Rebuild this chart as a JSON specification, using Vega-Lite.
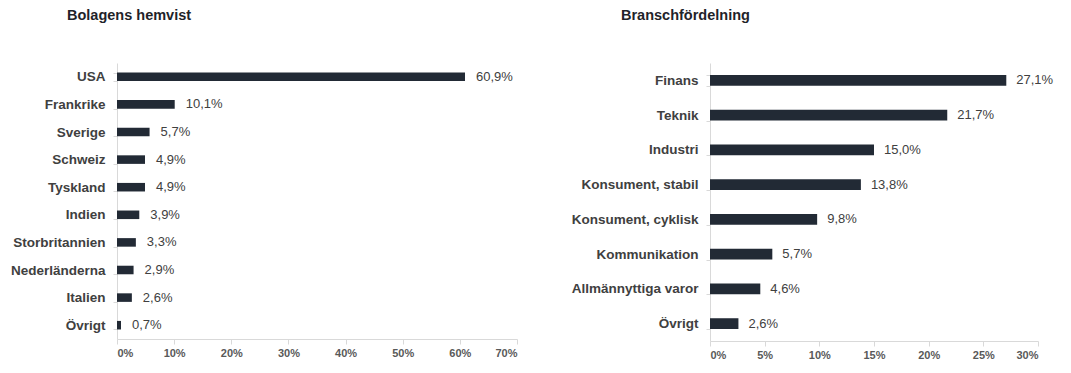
{
  "$schema": "https://vega.github.io/schema/vega-lite/v6.json",
  "padding": {"left": 0, "top": 8, "right": 0, "bottom": 0},
  "background": "white",
  "config": {
    "view": {"stroke": null},
    "font": "Liberation Sans",
    "concat": {"spacing": 52},
    "locale": {"number": {"decimal": ",", "thousands": " ", "grouping": [3], "currency": ["", " kr"]}},
    "title": {"anchor": "start", "frame": "bounds", "fontSize": 14.5, "fontWeight": "bold", "color": "#1f2329", "offset": 32.5, "font": "Liberation Sans"},
    "axisY": {
      "domainColor": "#d9d9d9", "tickColor": "#d9d9d9", "tickSize": 4, "tickBand": "extent",
      "labelFontSize": 13.5, "labelFontWeight": "bold", "labelColor": "#404040", "labelPadding": 8,
      "title": null, "grid": false
    },
    "axisX": {
      "domainColor": "#d9d9d9", "tickColor": "#d9d9d9", "tickSize": 5,
      "labelFontSize": 11, "labelFontWeight": "bold", "labelColor": "#595959", "labelPadding": 3,
      "title": null, "grid": false, "format": ".0%"
    }
  },
  "datasets": {
    "hemvist": [
      {"kategori": "USA", "andel": 0.609},
      {"kategori": "Frankrike", "andel": 0.101},
      {"kategori": "Sverige", "andel": 0.057},
      {"kategori": "Schweiz", "andel": 0.049},
      {"kategori": "Tyskland", "andel": 0.049},
      {"kategori": "Indien", "andel": 0.039},
      {"kategori": "Storbritannien", "andel": 0.033},
      {"kategori": "Nederländerna", "andel": 0.029},
      {"kategori": "Italien", "andel": 0.026},
      {"kategori": "Övrigt", "andel": 0.007}
    ],
    "bransch": [
      {"kategori": "Finans", "andel": 0.271},
      {"kategori": "Teknik", "andel": 0.217},
      {"kategori": "Industri", "andel": 0.150},
      {"kategori": "Konsument, stabil", "andel": 0.138},
      {"kategori": "Konsument, cyklisk", "andel": 0.098},
      {"kategori": "Kommunikation", "andel": 0.057},
      {"kategori": "Allmännyttiga varor", "andel": 0.046},
      {"kategori": "Övrigt", "andel": 0.026}
    ]
  },
  "hconcat": [
    {
      "data": {"name": "hemvist"},
      "width": 400,
      "height": 276,
      "title": {"text": "Bolagens hemvist", "dx": 67},
      "encoding": {
        "y": {"field": "kategori", "type": "nominal", "sort": null,
              "scale": {"paddingInner": 0.69, "paddingOuter": 0.345},
              "axis": {"minExtent": 117, "maxExtent": 117}},
        "x": {"field": "andel", "type": "quantitative",
              "scale": {"domain": [0, 0.7], "nice": false},
              "axis": {"values": [0, 0.1, 0.2, 0.3, 0.4, 0.5, 0.6, 0.7]}}
      },
      "layer": [
        {"mark": {"type": "bar", "color": "#222a35"}},
        {"mark": {"type": "text", "align": "left", "baseline": "middle", "dx": 11, "fontSize": 13, "color": "#404040"},
         "encoding": {"text": {"field": "andel", "type": "quantitative", "format": ".1%"}}}
      ]
    },
    {
      "data": {"name": "bransch"},
      "width": 328,
      "height": 278,
      "title": {"text": "Branschfördelning", "dx": 51},
      "encoding": {
        "y": {"field": "kategori", "type": "nominal", "sort": null,
              "scale": {"paddingInner": 0.69, "paddingOuter": 0.345},
              "axis": {"minExtent": 140, "maxExtent": 140}},
        "x": {"field": "andel", "type": "quantitative",
              "scale": {"domain": [0, 0.3], "nice": false},
              "axis": {"values": [0, 0.05, 0.1, 0.15, 0.2, 0.25, 0.3]}}
      },
      "layer": [
        {"mark": {"type": "bar", "color": "#222a35"}},
        {"mark": {"type": "text", "align": "left", "baseline": "middle", "dx": 10, "fontSize": 13, "color": "#404040"},
         "encoding": {"text": {"field": "andel", "type": "quantitative", "format": ".1%"}}}
      ]
    }
  ]
}
